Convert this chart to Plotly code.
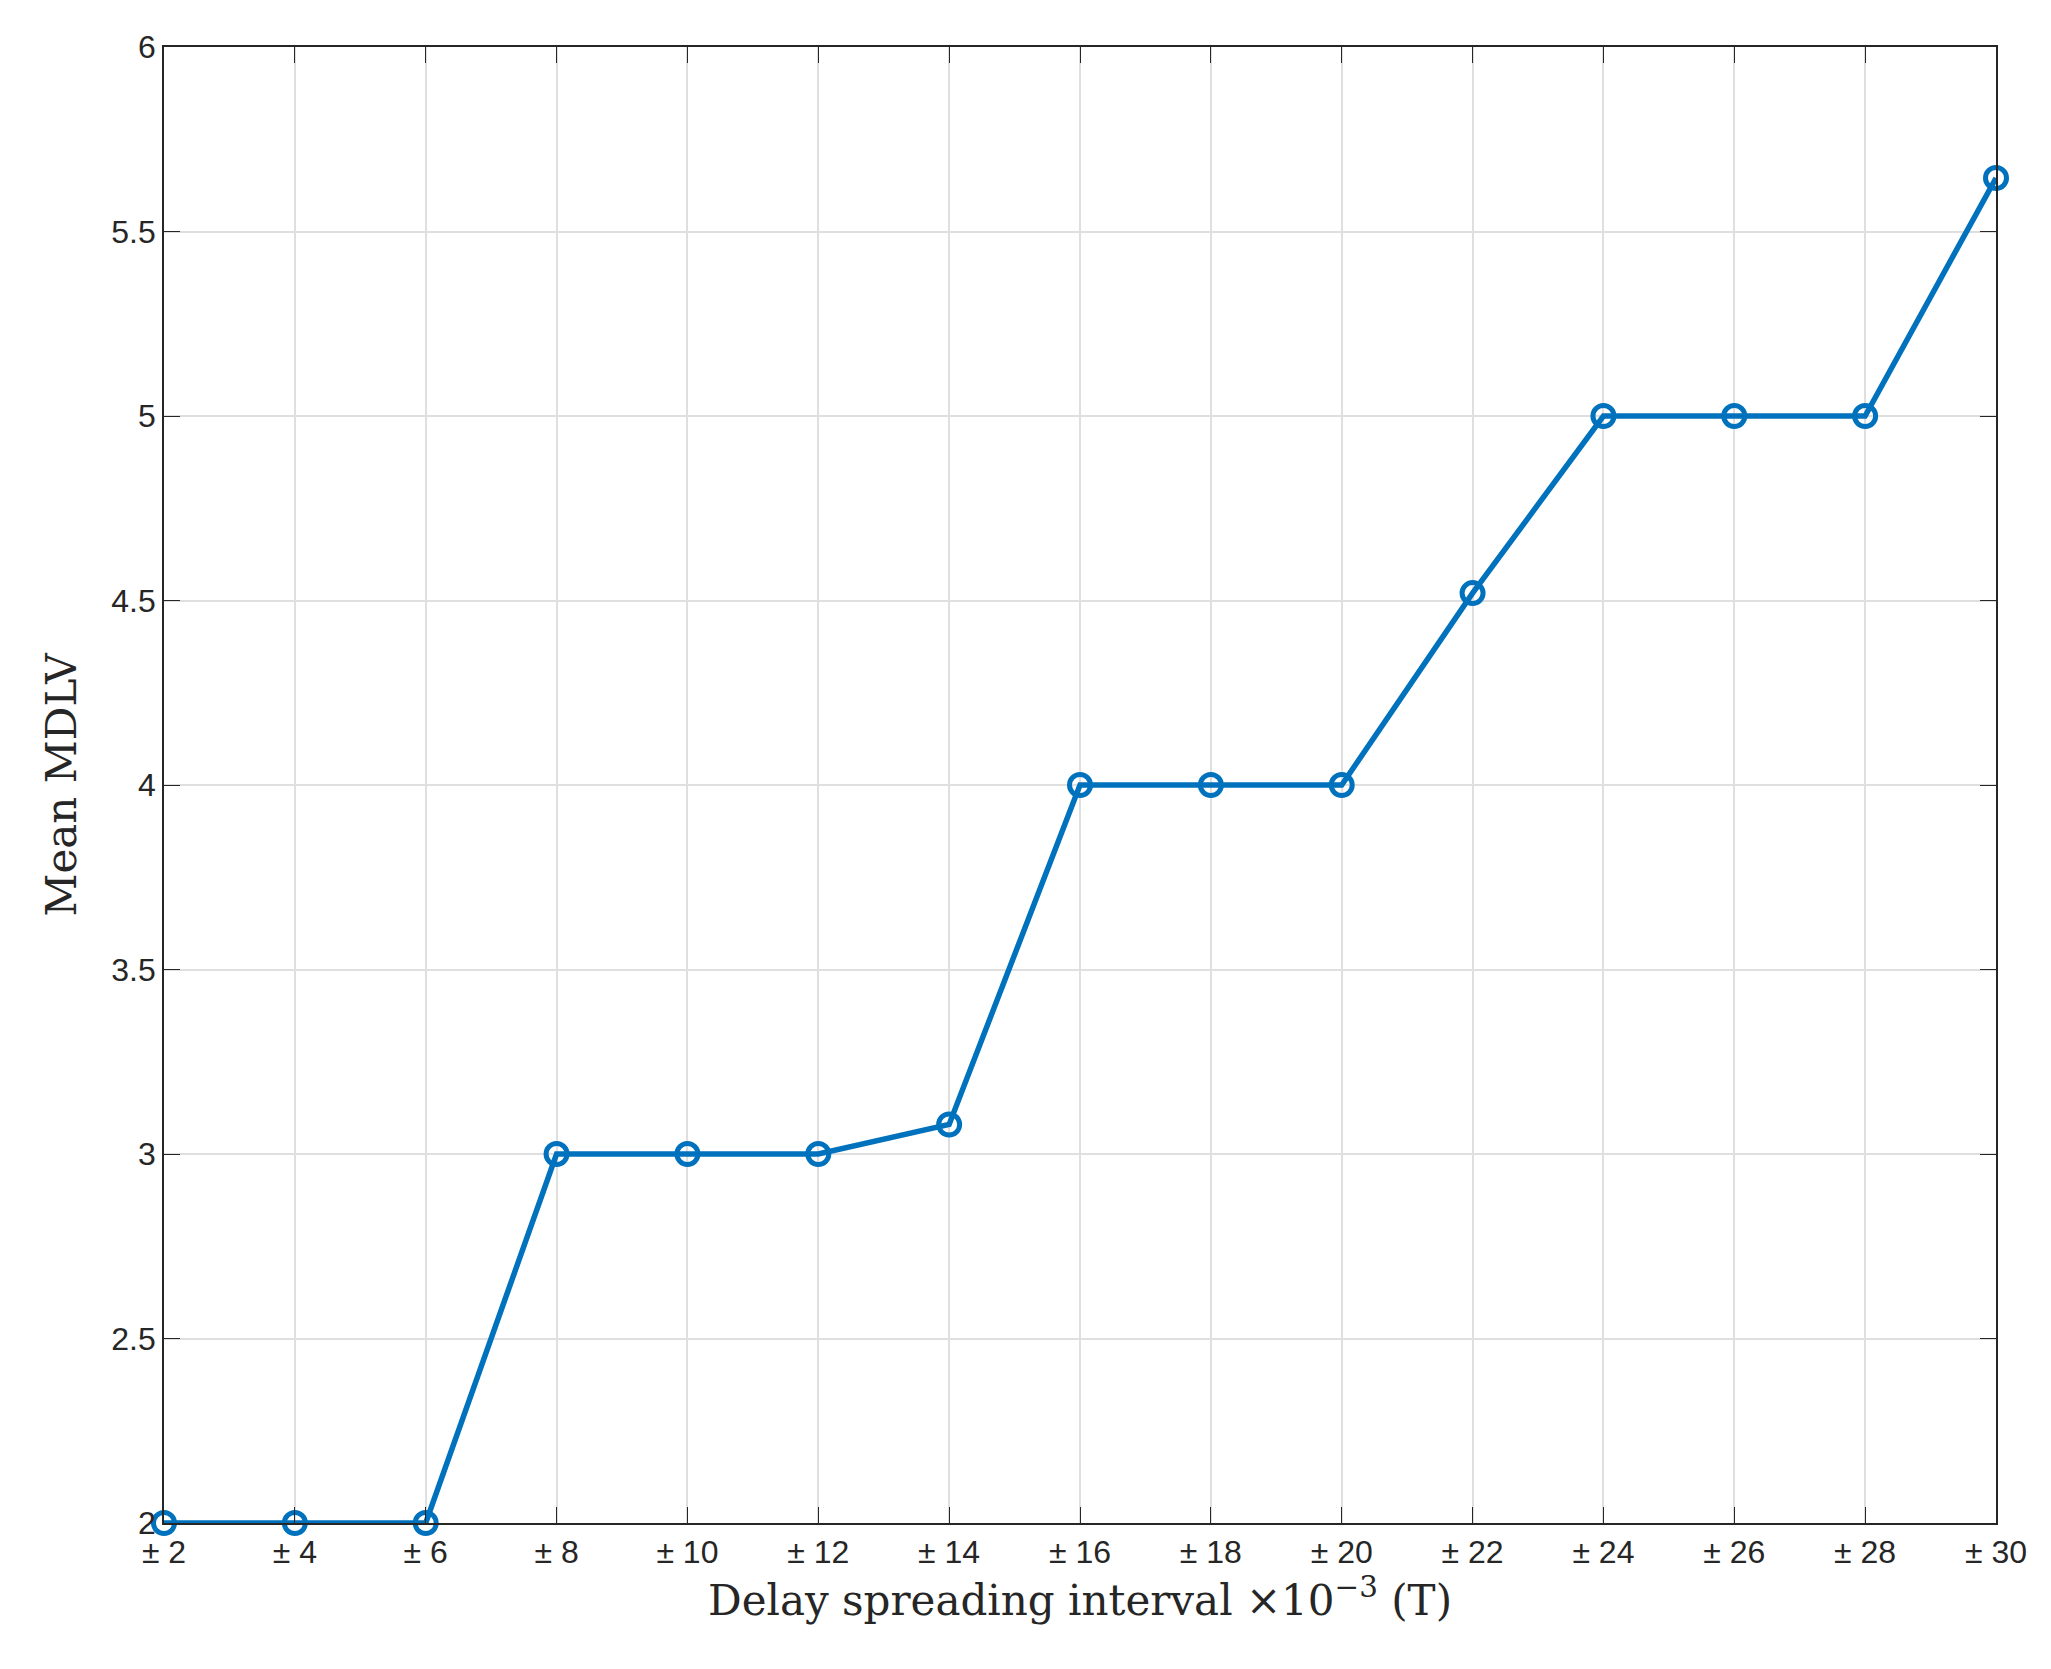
import plotly.graph_objects as go

# delay spreading interval (x10^-3 T) and mean MDLV
intervals = [2, 4, 6, 8, 10, 12, 14, 16, 18, 20, 22, 24, 26, 28, 30]
tick_labels = ["\u00b1 %d" % v for v in intervals]
mean_mdlv = [2, 2, 2, 3, 3, 3, 3.08, 4, 4, 4, 4.52, 5, 5, 5, 5.645]

blue = "#0072BD"

fig = go.Figure()
fig.add_trace(go.Scatter(
    x=intervals, y=mean_mdlv, mode="lines+markers",
    line=dict(color=blue, width=5.5),
    marker=dict(symbol="circle-open", size=21, color=blue, line=dict(width=5, color=blue)),
    cliponaxis=False, showlegend=False,
))

axis_common = dict(
    showline=True, linecolor="#262626", linewidth=1.8, mirror="ticks",
    ticks="inside", ticklen=16, tickcolor="#262626",
    showgrid=True, gridcolor="#dfdfdf", gridwidth=1.5, zeroline=False,
    tickfont=dict(family="Liberation Sans, Arial", size=32, color="#262626"),
)

fig.update_layout(
    width=2051, height=1669,
    paper_bgcolor="white", plot_bgcolor="white",
    margin=dict(l=156, r=63, t=39, b=154),
    xaxis=dict(range=[2, 30], tickvals=intervals, ticktext=tick_labels,
               title=dict(text="Delay spreading interval \u00d710<sup>\u22123</sup> (T)",
                          font=dict(family="DejaVu Serif, Liberation Serif", size=42, color="#262626"),
                          standoff=10),
               **axis_common),
    yaxis=dict(range=[2, 6], dtick=0.5, tickformat="~g",
               title=dict(text="Mean MDLV",
                          font=dict(family="DejaVu Serif, Liberation Serif", size=42, color="#262626"),
                          standoff=22),
               **axis_common),
)

fig.write_html("out.html")
